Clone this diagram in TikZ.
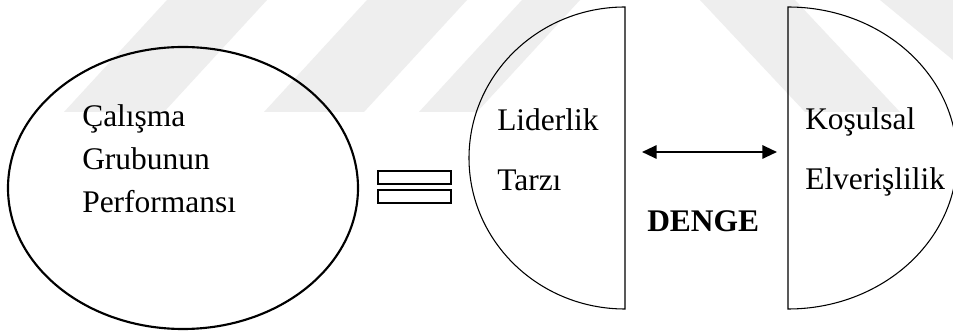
\documentclass[tikz,border=0pt]{standalone}
\usepackage{fontspec}
\setmainfont{Liberation Serif}
\usetikzlibrary{arrows.meta}
\definecolor{wmgray}{RGB}{238,238,238}
\begin{document}
\begin{tikzpicture}[x=0.75pt,y=-0.75pt,
  label/.style={anchor=base west,inner sep=0pt,font=\fontsize{23.6}{28}\selectfont},
  band/.style={fill=wmgray,draw=none},
  halfdisc/.style={draw=black,line width=0.8pt},
  bar/.style={draw=black,line width=2pt},
  link/.style={line width=1.5pt,{Triangle[length=11pt,width=10pt]}-{Triangle[length=11pt,width=10pt]}}]
\useasboundingbox (0,0) rectangle (953,331);
\fill[white] (0,0) rectangle (953,331);

% light background bands
\fill[band] (167,0) -- (267,0) -- (164,112) -- (64,112) -- cycle;
\fill[band] (367,0) -- (467,0) -- (364,112) -- (264,112) -- cycle;
\fill[band] (522,0) -- (580,0) -- (477,112) -- (419,112) -- cycle;
\fill[band] (700,0) -- (795,0) -- (900,112) -- (805,112) -- cycle;
\fill[band] (880,0) -- (953,0) -- (953,60) -- cycle;

% group performance ellipse
\draw[line width=1.6pt] (183,188) ellipse [x radius=175, y radius=141];
\node[label] (c1) at (82,127) {Çalışma};
\node[label] (c2) at (82,170) {Grubunun};
\node[label] (c3) at (82,213) {Performansı};

% equality sign
\draw[bar] (378,171) rectangle (451,184);
\draw[bar] (378,190) rectangle (451,203);

% leadership style half
\draw[halfdisc] (625,7) arc[start angle=270,end angle=90,x radius=156,y radius=151] -- cycle;
\node[label] (l1) at (497,131) {Liderlik};
\node[label] (l2) at (497,191) {Tarzı};

% situational favourability half
\begin{scope}
\clip (0,0) rectangle (953,331);
\draw[halfdisc] (788,7) arc[start angle=-90,end angle=90,x radius=169,y radius=151] -- cycle;
\end{scope}
\node[label] (k1) at (805,130) {Koşulsal};
\node[label] (k2) at (805,190) {Elverişlilik};

% balance
\coordinate (aL) at (642,152);
\coordinate (aR) at (777,152);
\draw[link] (aL) -- (aR);
\node[label,font=\fontsize{23.6}{28}\selectfont\bfseries] (dg) at (647,232) {DENGE};
\end{tikzpicture}
\end{document}
